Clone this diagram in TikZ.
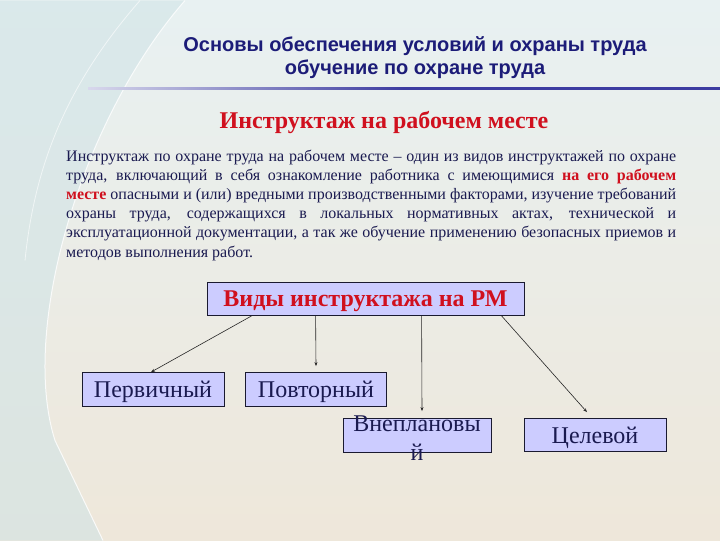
\documentclass[tikz,border=0pt]{standalone}
\usepackage{fontspec}
\setmainfont{Liberation Serif}
\setsansfont{Liberation Sans}
\usetikzlibrary{arrows.meta}

\definecolor{navy}{HTML}{1C1C78}
\definecolor{inktext}{HTML}{1A1A50}
\definecolor{redhead}{HTML}{D0101E}
\definecolor{boxfill}{HTML}{CCCCFF}
\definecolor{boxline}{HTML}{1A1A30}
\definecolor{rulecol}{HTML}{3C3CA0}
\definecolor{bgtop}{HTML}{E8F1F2}
\definecolor{bgbot}{HTML}{EEE7DA}
\definecolor{swoosh}{HTML}{CFE3E6}

\begin{document}
\begin{tikzpicture}[x=1pt, y=-1pt,
	vidbox/.style={draw=boxline, fill=boxfill, line width=0.8pt, inner sep=0pt, text=inktext, text height=18pt, text depth=2pt, font=\rmfamily\fontsize{24}{28.8}\selectfont},
	arr/.style={-{Stealth[length=4pt,width=3pt]}, line width=0.6pt, draw=black!85}]
		% background
		\shade[top color=bgtop, bottom color=bgbot] (0,0) rectangle (720,540);
		\fill[swoosh, opacity=0.55] (0,0) -- (185,0) .. controls (80,120) and (20,330) .. (55,440) -- (103,540) -- (0,540) -- cycle;
		\draw[white, line width=1pt, opacity=0.8] (185,0) .. controls (80,120) and (20,330) .. (55,440) -- (103,540);
		\draw[white, line width=0.8pt, opacity=0.6] (140,0) .. controls (70,80) and (35,160) .. (25,260);
		\useasboundingbox (0,0) rectangle (720,540);
		% title
		\node[font=\sffamily\bfseries\fontsize{20}{23}\selectfont, text=navy, align=center] (title) at (415,57.5) {Основы обеспечения условий и охраны труда\\обучение по охране труда};
		\shade[left color=rulecol!20, right color=rulecol, middle color=rulecol] (88,87.4) rectangle (720,88.8);
		% heading and text
		\node[font=\bfseries\fontsize{24}{28}\selectfont, text=redhead] (heading) at (384,122) {Инструктаж на рабочем месте};
		\node[anchor=north west, inner sep=0pt, text width=610pt, align=justify, text=inktext, font=\fontsize{16}{19.2}\selectfont] (para) at (66,149) {\hyphenpenalty=10000
			Инструктаж по охране труда на рабочем месте – один из видов инструктажей по охране\linebreak
			труда, включающий в себя ознакомление работника с имеющимися {\color{redhead}\bfseries на его рабочем}\linebreak
			{\color{redhead}\bfseries месте} опасными и (или) вредными производственными факторами, изучение требований\linebreak
			охраны труда, содержащихся в локальных нормативных актах, технической и\linebreak
			эксплуатационной документации, а так же обучение применению безопасных приемов и\linebreak
			методов выполнения работ.};
		% boxes
		\node[vidbox, minimum width=317pt, minimum height=33pt, text height=17pt, text=redhead, font=\rmfamily\bfseries\fontsize{24}{28.8}\selectfont] (vidy) at (365.5,298.5) {Виды инструктажа на РМ};
		\node[vidbox, minimum width=142pt, minimum height=34pt] (perv) at (153,389) {Первичный};
		\node[vidbox, minimum width=141pt, minimum height=34pt] (povt) at (316,389) {Повторный};
		\node[vidbox, minimum width=148pt, minimum height=34pt] (vnepl) at (417,435) {};
		\node[text=inktext, align=center, inner sep=0pt, font=\fontsize{24}{28.8}\selectfont] (vneplt) at (417,438) {Внеплановы\\й};
		\node[vidbox, minimum width=142pt, minimum height=33pt] (celev) at (595,434.5) {Целевой};
		% arrows
		\draw[arr] ([xshift=45pt]vidy.south west) -- ([xshift=-2pt]perv.north);
		\draw[arr] ([xshift=109pt]vidy.south west) -- ([yshift=6pt]povt.north);
		\draw[arr] ([xshift=215pt]vidy.south west) -- ([xshift=5pt,yshift=7pt]vnepl.north);
		\draw[arr] ([xshift=295pt]vidy.south west) -- ([xshift=-8pt,yshift=6pt]celev.north);
\end{tikzpicture}
\end{document}
